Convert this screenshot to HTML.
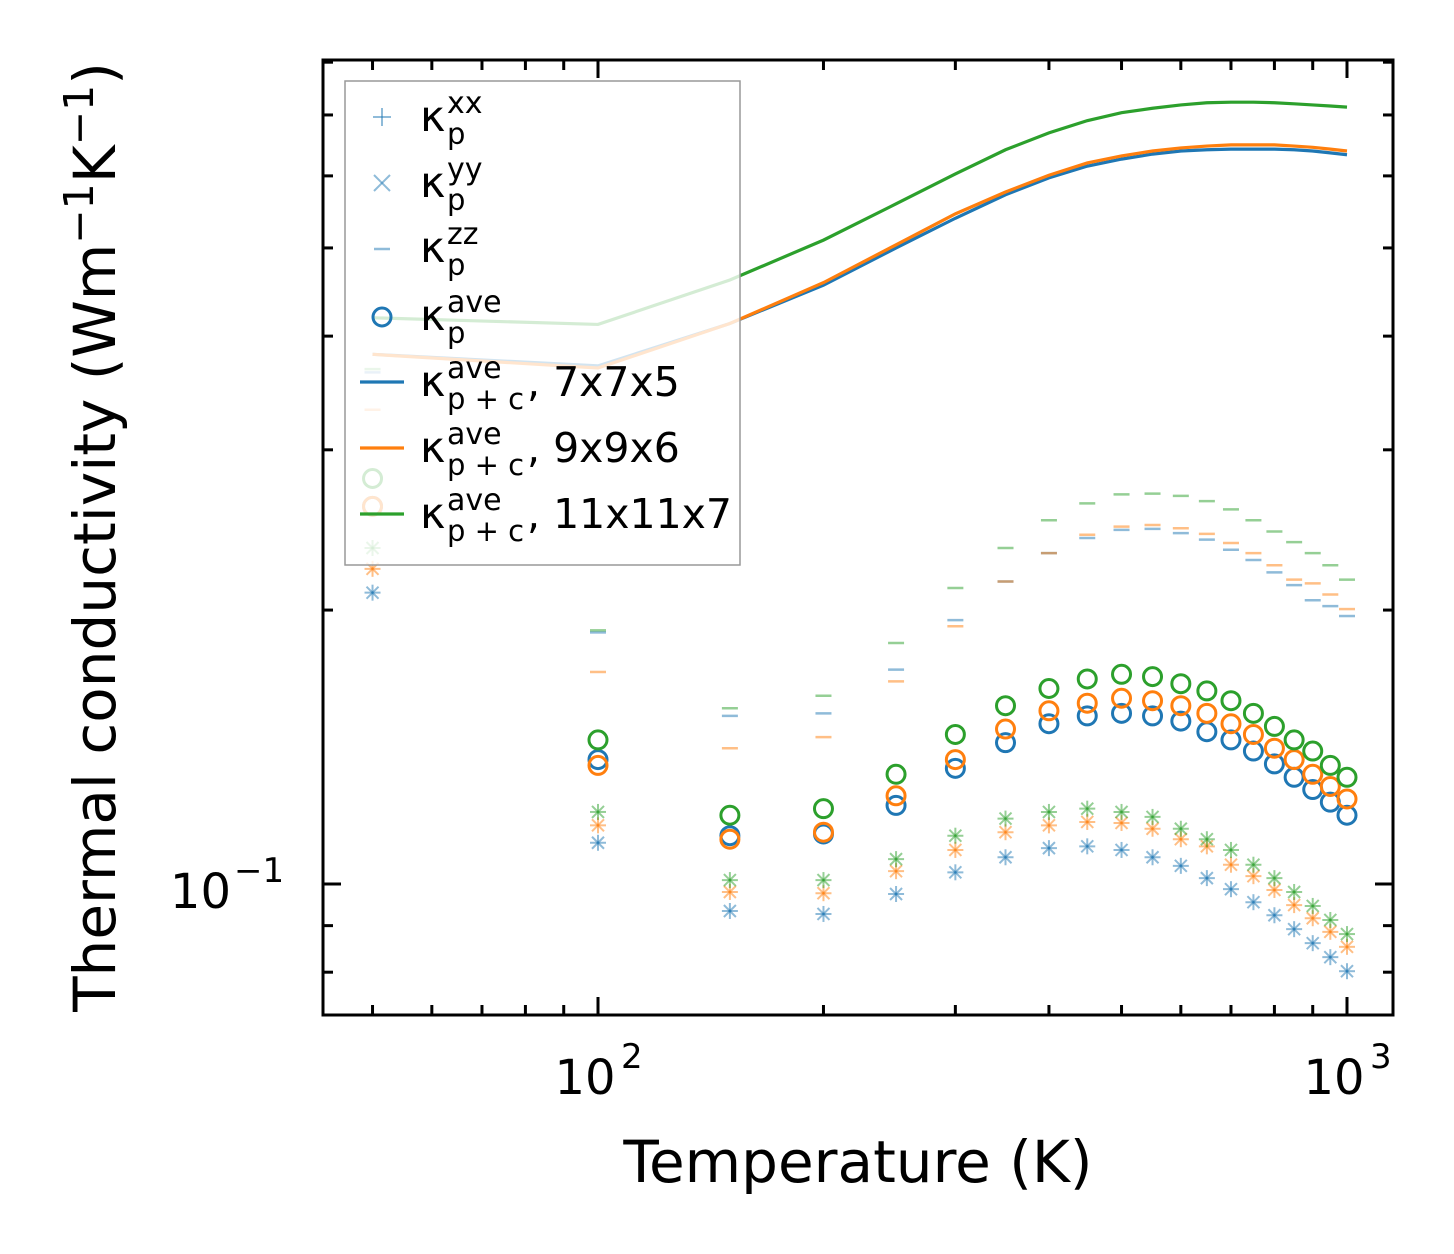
<!DOCTYPE html>
<html><head><meta charset="utf-8"><style>
html,body{margin:0;padding:0;background:#fff;}
svg{display:block;font-family:"DejaVu Sans","Liberation Sans",sans-serif;}
</style></head><body>
<svg id="chart" width="1454" height="1254" xmlns="http://www.w3.org/2000/svg">
<g id="marks"></g>
<g id="axes"></g>
<g id="legend"></g>
</svg>
<script>
const temps=[50,100,150,200,250,300,350,400,450,500,550,600,650,700,750,800,850,900,950,1000];
const line775=[0.382,0.371,0.413,0.455,0.500,0.539,0.572,0.597,0.615,0.626,0.634,0.639,0.641,0.642,0.642,0.642,0.641,0.639,0.636,0.633];
const line996=[0.382,0.369,0.413,0.458,0.504,0.545,0.576,0.601,0.620,0.631,0.639,0.644,0.647,0.649,0.649,0.649,0.647,0.645,0.642,0.639];
const line11=[0.419,0.412,0.461,0.510,0.559,0.603,0.641,0.669,0.690,0.704,0.712,0.718,0.722,0.723,0.723,0.722,0.720,0.718,0.716,0.714];
const ave775=[0.260,0.137,0.113,0.1135,0.122,0.134,0.143,0.150,0.153,0.154,0.153,0.151,0.147,0.144,0.140,0.1355,0.131,0.127,0.123,0.119];
const ave996=[0.260,0.135,0.112,0.114,0.125,0.137,0.148,0.155,0.158,0.160,0.159,0.157,0.154,0.150,0.146,0.141,0.137,0.132,0.128,0.124];
const ave11=[0.279,0.144,0.119,0.121,0.132,0.146,0.157,0.164,0.168,0.170,0.169,0.166,0.163,0.159,0.154,0.149,0.144,0.140,0.135,0.131];
const xy775=[0.209,0.111,0.0934,0.0927,0.0975,0.103,0.107,0.1095,0.110,0.109,0.107,0.1047,0.1015,0.0987,0.0955,0.0924,0.0892,0.0861,0.0831,0.0802];
const xy996=[0.222,0.116,0.098,0.0977,0.1033,0.109,0.114,0.116,0.117,0.1167,0.115,0.112,0.110,0.105,0.102,0.0985,0.0948,0.0917,0.0886,0.0853];
const xy11=[0.234,0.120,0.101,0.101,0.1065,0.113,0.118,0.120,0.121,0.120,0.1185,0.115,0.112,0.109,0.105,0.1015,0.098,0.0946,0.0913,0.0881];
const zz775=[0.365,0.189,0.153,0.154,0.172,0.195,0.215,0.231,0.240,0.245,0.2456,0.243,0.239,0.233,0.227,0.220,0.213,0.205,0.202,0.197];
const zz996=[0.332,0.171,0.141,0.145,0.167,0.192,0.215,0.231,0.242,0.247,0.248,0.246,0.2425,0.237,0.231,0.224,0.216,0.214,0.208,0.2005];
const zz11=[0.368,0.190,0.156,0.161,0.184,0.2115,0.234,0.251,0.262,0.268,0.2685,0.267,0.2635,0.258,0.251,0.244,0.2375,0.231,0.224,0.216];
const xTickVals=[100,1000];
const xTickLabels=["2","3"];

const NS="http://www.w3.org/2000/svg";
const L=323,R=1393,T=60,B=1015;
const X=v=>598+749*Math.log10(v/100);
const Y=v=>884-910*Math.log10(v/0.1);
function mk(tag,attrs,parent){const e=document.createElementNS(NS,tag);for(const k in attrs)e.setAttribute(k,attrs[k]);parent.appendChild(e);return e;}
const marks=document.getElementById('marks'),axes=document.getElementById('axes'),leg=document.getElementById('legend');
const C=['#1f77b4','#ff7f0e','#2ca02c'];
const meshes=['7x7x5','9x9x6','11x11x7'];
const zzS=[zz775,zz996,zz11],xyS=[xy775,xy996,xy11],aveS=[ave775,ave996,ave11],lineS=[line775,line996,line11];
function plus(x,y,c,p,s){mk('line',{x1:x-s,y1:y,x2:x+s,y2:y,stroke:c,'stroke-width':2,'stroke-opacity':0.5},p);mk('line',{x1:x,y1:y-s,x2:x,y2:y+s,stroke:c,'stroke-width':2,'stroke-opacity':0.5},p);}
function cross(x,y,c,p,s){mk('line',{x1:x-s,y1:y-s,x2:x+s,y2:y+s,stroke:c,'stroke-width':2,'stroke-opacity':0.5},p);mk('line',{x1:x-s,y1:y+s,x2:x+s,y2:y-s,stroke:c,'stroke-width':2,'stroke-opacity':0.5},p);}
for(let m=0;m<3;m++){
  const g=mk('g',{},marks);
  
  
  temps.forEach((t,i)=>{
    const x=X(t);
    const d=mk('line',{x1:x-8,y1:Y(zzS[m][i]),x2:x+8,y2:Y(zzS[m][i]),stroke:C[m],'stroke-width':2.5,'stroke-opacity':0.5},g);
    
    
    plus(x,Y(xyS[m][i]),C[m],g,8);
    cross(x,Y(xyS[m][i]),C[m],g,6);
    const c=mk('circle',{cx:x,cy:Y(aveS[m][i]),r:9,fill:'none',stroke:C[m],'stroke-width':3},g);
    
    
  });
  const pl=mk('polyline',{points:temps.map((t,i)=>X(t)+','+Y(lineS[m][i])).join(' '),fill:'none',stroke:C[m],'stroke-width':3.2},g);
  
  
}
const fr=mk('rect',{x:L,y:T,width:R-L,height:B-T,fill:'none',stroke:'#000','stroke-width':3},axes);


for(let d=1;d<=3;d++){for(let k=1;k<10;k++){const v=k*Math.pow(10,d);const x=X(v);if(x<L+2||x>R-2)continue;const len=k===1?18:10;
 mk('line',{x1:x,y1:B,x2:x,y2:B-len,stroke:'#000','stroke-width':3},axes);mk('line',{x1:x,y1:T,x2:x,y2:T+len,stroke:'#000','stroke-width':3},axes);}}
xTickVals.forEach((v,i)=>{const t=mk('text',{x:X(v)-13,y:1094,'font-size':48,'text-anchor':'middle'},axes);t.textContent='10';
 
 
 const s=mk('text',{x:X(v)+23,y:1068,'font-size':34},axes);s.textContent=xTickLabels[i];});
[0.08,0.09,0.1,0.2,0.3,0.4,0.5,0.6,0.7,0.8].forEach(v=>{const y=Y(v);if(y<T+2)return;const len=v===0.1?18:10;
 mk('line',{x1:L,y1:y,x2:L+len,y2:y,stroke:'#000','stroke-width':3},axes);mk('line',{x1:R,y1:y,x2:R-len,y2:y,stroke:'#000','stroke-width':3},axes);});
const yl=mk('text',{x:231,y:Y(0.1)+24,'font-size':48,'text-anchor':'end'},axes);yl.textContent='10';


const ys=mk('text',{x:234,y:Y(0.1)-2,'font-size':34},axes);ys.textContent='−1';
const xt=mk('text',{x:858,y:1182,'font-size':58,'text-anchor':'middle'},axes);xt.textContent='Temperature (K)';


const yt=mk('text',{x:0,y:0,'font-size':58,'text-anchor':'middle',transform:'translate(115,537) rotate(-90)'},axes);
yt.innerHTML='Thermal conductivity (Wm<tspan dy="-22" font-size="41">−1</tspan><tspan dy="22">K</tspan><tspan dy="-22" font-size="41">−1</tspan><tspan dy="22">)</tspan>';


const bx=mk('rect',{x:345,y:81,width:395,height:484,fill:'#fff','fill-opacity':0.8,stroke:'#999','stroke-width':1.5},leg);


const lc='#1f77b4';
plus(382,117,lc,leg,9);
cross(382,183,lc,leg,8);
mk('line',{x1:374,y1:249,x2:390,y2:249,stroke:lc,'stroke-width':2.5,'stroke-opacity':0.5},leg);
mk('circle',{cx:382,cy:317,r:9,fill:'none',stroke:lc,'stroke-width':3},leg);
[0,1,2].forEach(m=>mk('line',{x1:360,y1:382+66*m,x2:404,y2:382+66*m,stroke:C[m],'stroke-width':3.2},leg));
function ent(y,sup,sub,extra){
 const t=mk('text',{x:420,y:y,'font-size':43},leg);t.textContent='κ';
 
 
 const a=mk('text',{x:447,y:y-18,'font-size':30},leg);a.textContent=sup;
 const b=mk('text',{x:447,y:y+13,'font-size':29},leg);b.textContent=sub;
 if(extra){const e=mk('text',{x:527,y:y,'font-size':41},leg);e.textContent=extra;}
}
ent(131,'xx','p');ent(197,'yy','p');ent(262,'zz','p');ent(330,'ave','p');
ent(396,'ave','p + c',', 7x7x5');ent(462,'ave','p + c',', 9x9x6');ent(528,'ave','p + c',', 11x11x7');
</script>
</body></html>
